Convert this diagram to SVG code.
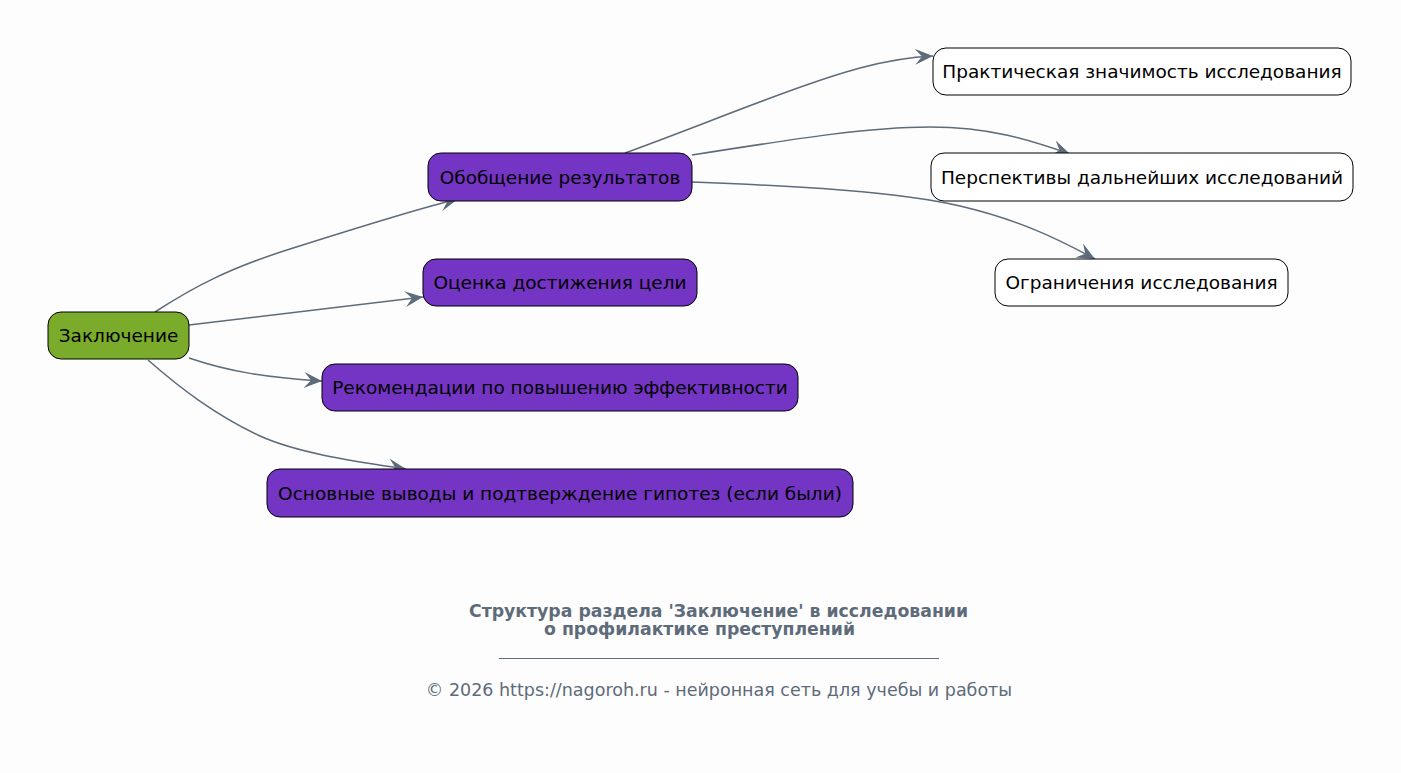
<svg xmlns="http://www.w3.org/2000/svg" width="1401" height="773" viewBox="0 0 1401 773">
<defs>
<style>
.node rect{stroke:#000;stroke-width:1}
.green{fill:#7aab2b}
.purple{fill:#7434c4}
.white{fill:#fff}
.node text{font-family:"DejaVu Sans",sans-serif;font-size:18.5px;fill:#000;text-anchor:middle;dominant-baseline:central}
.edge{fill:none;stroke:#5d6b7a;stroke-width:1.5;marker-end:url(#arr)}
.title{font-family:"DejaVu Sans",sans-serif;font-size:17.3px;font-weight:bold;fill:#5d6b7a}
.foot{font-family:"DejaVu Sans",sans-serif;font-size:17.5px;fill:#5d6b7a;text-anchor:middle}
</style>
<marker id="arr" markerUnits="userSpaceOnUse" markerWidth="20" markerHeight="18" refX="18" refY="8" orient="auto" viewBox="0 0 20 18">
<path d="M0,0 L18,8 L0,16 L7,8 z" fill="#5d6b7a"/>
</marker>
</defs>
<rect width="1401" height="773" fill="#fdfdfd"/>
<g id="connectors">
<path class="edge" d="M155,312 C195,286 230,268 290,249 C350,230 420,208 458,199"/>
<path class="edge" d="M189,325 L423,297"/>
<path class="edge" d="M189,358 C230,372 270,378 322,381"/>
<path class="edge" d="M148,360 C180,388 215,415 260,436 C300,454 360,462 406,469"/>
<path class="edge" d="M625,153 C700,126 800,84 860,68 C890,60 910,57 933,56"/>
<path class="edge" d="M692,155 C800,138 870,127 930,127 C990,127 1030,140 1070,154"/>
<path class="edge" d="M692,182 C800,186 900,192 960,206 C1020,220 1060,240 1095,259"/>
</g>
<g id="n-zakl" class="node"><rect class="green" x="48" y="312" width="141" height="47" rx="13"/><text x="118.5" y="335.5">Заключение</text></g>
<g id="n-obob" class="node"><rect class="purple" x="428" y="153" width="264" height="48" rx="13"/><text x="560" y="177">Обобщение результатов</text></g>
<g id="n-ocen" class="node"><rect class="purple" x="423" y="259" width="274" height="47" rx="13"/><text x="560" y="282.5">Оценка достижения цели</text></g>
<g id="n-rek" class="node"><rect class="purple" x="322" y="364" width="476" height="47" rx="13"/><text x="560" y="387.5">Рекомендации по повышению эффективности</text></g>
<g id="n-osn" class="node"><rect class="purple" x="267" y="469" width="586" height="48" rx="13"/><text x="560" y="493">Основные выводы и подтверждение гипотез (если были)</text></g>
<g id="n-prakt" class="node"><rect class="white" x="933" y="48" width="418" height="47" rx="13"/><text x="1142" y="71.5">Практическая значимость исследования</text></g>
<g id="n-persp" class="node"><rect class="white" x="931" y="153" width="422" height="48" rx="13"/><text x="1142" y="177">Перспективы дальнейших исследований</text></g>
<g id="n-ogr" class="node"><rect class="white" x="995" y="259" width="293" height="47" rx="13"/><text x="1141.5" y="282.5">Ограничения исследования</text></g>
<g id="caption">
<text class="title" x="469" y="617">Структура раздела 'Заключение' в исследовании</text>
<text class="title" x="544" y="635">о профилактике преступлений</text>
<line x1="499" y1="658.5" x2="939" y2="658.5" stroke="#5d6b7a" stroke-width="1"/>
<text class="foot" x="719" y="696">© 2026 https://nagoroh.ru - нейронная сеть для учебы и работы</text>
</g>
</svg>
